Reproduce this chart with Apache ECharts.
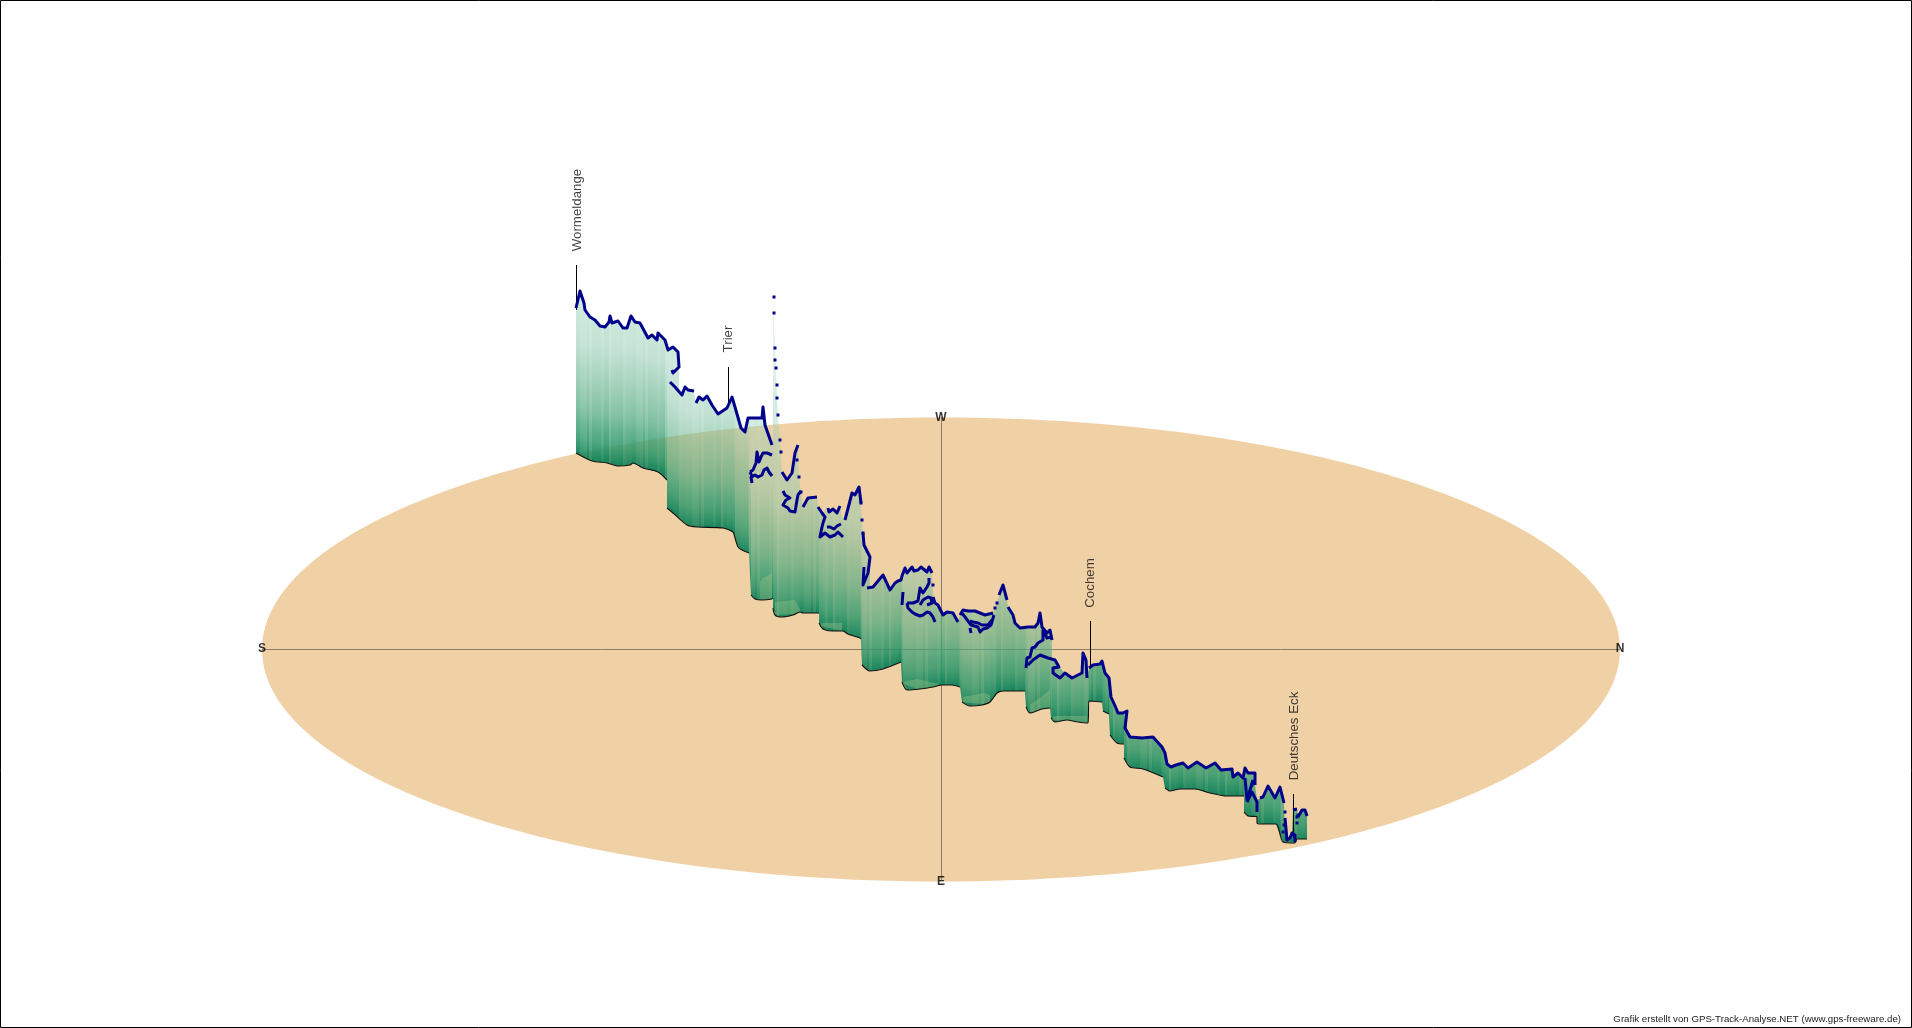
<!DOCTYPE html>
<html><head><meta charset="utf-8">
<style>html,body{margin:0;padding:0;background:#fff}#c{width:1912px;height:1028px}</style>
<script src="https://cdn.jsdelivr.net/npm/echarts@6/dist/echarts.min.js"></script>
</head><body><div id="c"></div>
<script>
// plane: compass disc [centre x, centre y, radius x, radius y]
const disc = [941, 649.5, 679, 232];
const compassX = [262, 1620, null, 941.5, 941.5];
const compassY = [649.5, 649.5, null, 417, 880];
const compassLabels = [['S',262,649],['N',1620,649],['W',941,418],['E',941,882]];
const places = ['Wormeldange','Trier','Cochem','Deutsches Eck'];
const placeX = [577,728,1090,1294];
const placeTextY = [210,339,583,736];
const leaderX = [576.5,728.5,1090.5,1293.5];
const leaderTop = [265,367,621,794];
const leaderBottom = [310,406,665,838];
// curtain upper edge (outermost track)
const topX = [576,580,584,585,590,595,600,605,609,610,612,618,623,627,631,635,640,648,652,657,658,665,668,673,678,679,679,682,685,688,694,696,699,703,707,712,718,727,732,735,741,745,748,762,763,765,773,773,775,776,777,778,780,782,787,792,795,798,799,801,803,808,817,818,823,827,832,840,842,845,852,855,859,861,862,863,864,870,870,873,883,890,895,902,905,908,912,918,923,927,931,932,933,935,938,943,947,953,958,960,963,968,975,985,993,997,1003,1007,1008,1013,1015,1020,1028,1035,1038,1040,1042,1047,1050,1052,1052,1058,1060,1065,1072,1078,1082,1083,1086,1087,1089,1093,1100,1102,1105,1109,1111,1116,1118,1123,1127,1127,1130,1142,1153,1162,1165,1167,1171,1176,1183,1188,1197,1206,1215,1221,1232,1233,1238,1243,1245,1248,1255,1255,1257,1260,1263,1268,1275,1280,1284,1285,1287,1290,1292,1293,1297,1298,1302,1305,1307];
const topY = [308,291,303,310,317,320,326,327,322,316,323,321,328,328,316,322,323,338,335,340,333,340,350,347,352,367,392,395,387,390,391,403,397,400,396,405,414,408,397,407,428,432,418,418,407,425,445,297,348,368,398,415,440,472,480,473,453,445,477,492,507,498,497,507,513,508,512,506,517,520,493,495,487,503,520,533,545,557,587,587,575,590,583,578,568,573,567,570,567,572,565,573,597,603,605,615,612,613,622,615,610,611,611,615,613,603,585,600,607,615,623,628,627,627,623,613,627,633,630,640,658,662,668,673,678,675,673,653,660,678,668,665,664,661,673,678,697,708,713,713,711,733,737,738,737,747,753,764,767,765,763,768,762,768,763,770,769,777,773,778,768,773,773,785,800,798,797,786,798,787,803,832,840,838,833,810,809,817,810,810,816];
// ground line under the curtain; a repeated x is a step
const groundX = [576,592,607,618,630,633,643,658,667,667,673,687,697,723,733,735,738,742,749,751,755,762,772,773,773,775,782,793,800,803,818,819,819,823,832,843,848,860,861,862,870,883,901,902,907,920,933,942,952,960,962,970,982,990,997,1003,1025,1026,1030,1042,1050,1051,1055,1067,1078,1088,1089,1102,1103,1109,1110,1117,1124,1124,1130,1143,1163,1165,1170,1180,1195,1210,1227,1244,1244,1248,1257,1257,1262,1276,1283,1295,1297,1307];
const groundY = [453,461,463,466,465,463,468,472,480,508,513,525,527,528,532,538,547,550,553,595,599,600,599,598,608,615,617,615,612,613,613,613,623,629,631,631,634,638,639,665,671,669,662,682,690,689,687,685,685,687,702,706,705,702,693,691,691,707,713,709,708,718,722,720,722,723,701,702,711,714,735,743,744,758,767,769,777,788,791,789,789,793,796,796,812,816,817,823,824,824,842,843,839,839];
// track drawn as a solid line; null breaks the line
const trackX = [576,580,584,585,590,595,600,605,609,610,612,618,623,627,631,635,640,648,652,657,658,665,668,673,678,679,673,672,null,
670,675,682,685,688,694,null,
696,699,703,707,712,718,727,732,735,741,745,748,762,763,765,772,null,
750,753,756,757,759,761,763,767,772,null,750,753,null,752,751,755,758,762,764,767,769,772,null,
782,787,792,795,798,null,783,785,787,790,786,783,788,790,795,797,798,801,null,
803,808,817,null,818,822,825,823,822,820,825,830,835,838,843,null,828,829,833,837,840,null,827,830,834,837,841,null,
845,852,855,859,861,null,863,864,870,868,863,864,null,
867,873,883,890,895,898,901,902,905,907,909,912,914,918,921,923,927,929,931,932,null,
933,935,938,943,947,953,958,null,960,963,968,975,985,993,null,999,1003,1007,null,
1008,1013,1015,1020,1028,1035,1038,1040,1042,1043,1047,1050,1052,null,
902,903,null,907,908,912,915,920,923,927,930,933,935,null,907,913,918,920,923,927,929,929,null,920,923,928,931,932,927,null,
962,965,968,971,973,978,980,983,987,991,994,null,970,973,978,982,988,992,null,970,971,null,
1026,1027,1030,1032,1035,1038,1043,1043,1047,1052,null,
1028,1033,1040,1048,1055,1059,1053,1053,1060,1065,1072,1078,1082,1083,1086,1087,null,
1089,1093,1100,1102,1105,1109,1111,1116,1118,1123,1127,1125,1130,1142,1153,1162,1165,1167,1171,1176,1183,1188,1197,1206,1215,1221,1232,1233,1238,1243,1245,1248,1255,1255,null,
1245,1247,1253,null,1247,1252,1257,1257,null,1260,1263,1268,1275,1280,1284,null,1285,1287,1290,1292,1295,1295,null,1293,1297,null,1298,1302,1305,1307];
const trackY = [308,291,303,310,317,320,326,327,322,316,323,321,328,328,316,322,323,338,335,340,333,340,350,347,352,367,373,370,null,
382,387,395,387,390,391,null,
403,397,400,396,405,414,408,397,407,428,432,418,418,407,425,445,null,
472,470,463,452,462,457,453,453,455,null,472,478,null,483,477,475,477,475,470,468,472,476,null,
472,480,473,453,445,null,491,495,494,498,500,505,508,511,512,500,495,491,null,
507,498,497,null,507,513,517,523,527,537,533,537,535,532,537,null,508,512,509,513,506,null,527,527,529,526,524,null,
520,493,495,487,503,null,533,545,557,573,585,567,null,
588,587,575,590,583,581,580,576,568,573,573,567,571,570,567,567,572,567,565,573,null,
597,603,605,615,612,613,622,null,615,610,611,611,615,613,null,595,585,600,null,
607,615,623,628,627,627,623,613,627,628,633,630,640,null,
605,592,null,603,608,612,614,616,615,612,613,617,622,null,603,603,601,588,593,587,583,578,null,605,600,597,598,603,605,null,
613,617,621,625,627,627,632,629,628,625,615,null,621,622,623,625,625,620,null,628,633,null,
668,658,657,648,647,643,640,630,638,637,null,
665,660,655,658,660,667,668,673,678,673,678,675,673,653,660,678,null,
668,665,664,661,673,678,697,708,713,713,711,728,737,738,737,747,753,764,767,765,763,768,762,768,763,770,769,777,773,778,768,773,773,785,null,
778,800,780,null,802,792,802,812,null,798,797,786,798,787,803,null,818,840,838,833,835,842,null,810,809,null,817,810,810,816];
// stretches where only single dots of the track are visible
const dotX = [774,774,775,775,776,777,777,778,780,781,797,799,801,861,862,863,933,995,997,1252,1285,1284,1283,1297,1297,1298];
const dotY = [297,313,348,360,368,385,398,415,440,452,460,477,492,503,520,533,585,608,603,785,812,825,832,823,817,815];
// pale patches at the foot of the curtain: upper edge of each
const patch1X = [760,763,772];  const patch1Y = [582,578,573];
const patch2X = [775,795,800];  const patch2Y = [602,600,609];
const patch3X = [821,842];      const patch3Y = [623,623];
const patch4X = [903,917,935,938]; const patch4Y = [682,679,683,684];
const patch5X = [963,985,990];  const patch5Y = [697,693,695];
const patch6X = [1030,1050];    const patch6Y = [705,690];
const patch7X = [1053,1087];    const patch7Y = [716,716];
const patchEdges = [[patch1X,patch1Y],[patch2X,patch2Y],[patch3X,patch3Y],[patch4X,patch4Y],[patch5X,patch5Y],[patch6X,patch6Y],[patch7X,patch7Y]];
// stripe sequence of the curtain
const stripeWidths = [4,7,2,3,9,3,5,2,8,4,3,6];
const stripeFade = [1,0.93,1.05,0.9,1.02,0.95,1.06,0.88,1,1.04,0.92,0.98];
const curtainStops = [[0,'20,130,90',0.96],[0.03,'30,140,98',0.9],[0.07,'48,152,108',0.85],[0.12,'62,160,118',0.8],[0.18,'78,167,125',0.7],[0.3,'105,180,143',0.6],[0.43,'139,199,171',0.5],[0.55,'144,204,178',0.45],[1,'170,220,200',0.35]];
const footer = 'Grafik erstellt von GPS-Track-Analyse.NET (www.gps-freeware.de)';

function edgeAt(xs, ys, x, fromRight){
  if (x <= xs[0]) return ys[0];
  if (x >= xs[xs.length-1]) return ys[ys.length-1];
  for (let i=0;i<xs.length-1;i++){
    if (xs[i]===xs[i+1]) continue;
    if (x>xs[i] && x<xs[i+1] || (fromRight ? x===xs[i] : x===xs[i+1])){
      return ys[i]+(ys[i+1]-ys[i])*(x-xs[i])/(xs[i+1]-xs[i]);
    }
  }
  return ys[0];
}
function renderCurtain(params, api){
  const first = topX[0], last = topX[topX.length-1];
  const marks = new Set(topX.concat(groundX));
  let p = first, k = 0;
  while (p < last){ marks.add(p); p += stripeWidths[k % stripeWidths.length]; k++; }
  const cuts = Array.from(marks).filter(v=>v>=first&&v<=last).sort((a,b)=>a-b);
  const children = [];
  let s = 0, next = first + stripeWidths[0];
  for (let i=0;i<cuts.length-1;i++){
    const a=cuts[i], b=cuts[i+1];
    while (a >= next){ s++; next += stripeWidths[s % stripeWidths.length]; }
    const fade = stripeFade[s % stripeFade.length];
    const pts = [[a,edgeAt(topX,topY,a,true)],[b,edgeAt(topX,topY,b,false)],[b,edgeAt(groundX,groundY,b,false)],[a,edgeAt(groundX,groundY,a,true)]].map(q=>api.coord(q));
    const gy = (pts[2][1]+pts[3][1])/2;
    children.push({type:'polygon',shape:{points:pts},silent:true,style:{fill:{
      type:'linear',x:0,y:gy,x2:0,y2:gy-270,global:true,
      colorStops:curtainStops.map(c=>({offset:c[0],color:'rgba('+c[1]+','+Math.min(1,c[2]*fade).toFixed(3)+')'}))
    }}});
  }
  patchEdges.forEach(e=>{
    const up = e[0].map((x,i)=>[x,e[1][i]]);
    const low = e[0].slice().reverse().map(x=>[x,edgeAt(groundX,groundY,x,false)]);
    children.push({type:'polygon',shape:{points:up.concat(low).map(q=>api.coord(q))},silent:true,
      style:{fill:'rgba(170,200,140,0.35)'}});
  });
  return {type:'group',children};
}
function zipLine(xs,ys){ return xs.map((x,i)=> x===null ? ['-','-'] : [x,ys[i]]); }
function groundLine(){
  const out=[];
  groundX.forEach((x,i)=>{
    const gap = i && (groundY[i]-groundY[i-1])>=8 && (x-groundX[i-1])<=2;
    if(gap) out.push(['-','-']);
    out.push([x,groundY[i]]);
  });
  return out;
}
const leaders = [];
places.forEach((n,i)=>{ leaders.push([leaderX[i],leaderTop[i]],[leaderX[i],leaderBottom[i]],['-','-']); });

const chart = echarts.init(document.getElementById('c'),null,{renderer:'canvas'});
chart.setOption({
  animation:false,
  backgroundColor:'#fff',
  title:{text:footer,right:11,top:1014,textStyle:{fontFamily:'Liberation Sans',fontSize:9.7,fontWeight:'normal',color:'#222'},padding:0},
  grid:{left:0,top:0,width:1912,height:1028,show:false},
  xAxis:{type:'value',min:0,max:1912,show:false},
  yAxis:{type:'value',min:0,max:1028,inverse:true,show:false},
  series:[
    {type:'custom',z:1,silent:true,clip:false,data:[disc],
     renderItem:(p,api)=>{
       const c=api.coord([api.value(0),api.value(1)]), s=api.size([api.value(2),api.value(3)]);
       return {type:'ellipse',shape:{cx:c[0],cy:c[1],rx:s[0],ry:s[1]},style:{fill:'#f0d1a5'}};
     }},
    {type:'line',z:2,silent:true,symbol:'none',data:zipLine(compassX,compassY),lineStyle:{color:'#8b7d6b',width:1}},
    {type:'custom',z:3,silent:true,clip:false,data:[[0,0]],renderItem:renderCurtain},
    {type:'line',z:4,silent:true,symbol:'none',smooth:0.25,data:groundLine(),lineStyle:{color:'#111',width:1.1}},
    {type:'line',z:5,silent:true,symbol:'none',data:leaders,lineStyle:{color:'#000',width:1}},
    {type:'line',z:6,silent:true,symbol:'none',data:zipLine(trackX,trackY),lineStyle:{color:'#00008b',width:3,join:'round'}},
    {type:'scatter',z:6,silent:true,symbol:'rect',symbolSize:3,data:dotX.map((x,i)=>[x,dotY[i]]),itemStyle:{color:'#00008b',opacity:1}},
    {type:'scatter',z:7,silent:true,symbolSize:0,data:places.map((n,i)=>[placeX[i],placeTextY[i],n]),
     label:{show:true,position:'inside',rotate:90,formatter:p=>p.value[2],fontFamily:'Liberation Sans',fontSize:13.3,color:'#111'}},
    {type:'scatter',z:7,silent:true,symbolSize:0,data:compassLabels.map(l=>[l[1],l[2],l[0]]),
     label:{show:true,position:'inside',formatter:p=>p.value[2],fontFamily:'Liberation Sans',fontSize:12,fontWeight:'bold',color:'#000'}}
  ],
  graphic:[{type:'rect',z:100,silent:true,shape:{x:0.5,y:0.5,width:1911,height:1027},style:{fill:'none',stroke:'#000',lineWidth:1}}]
});
</script></body></html>
